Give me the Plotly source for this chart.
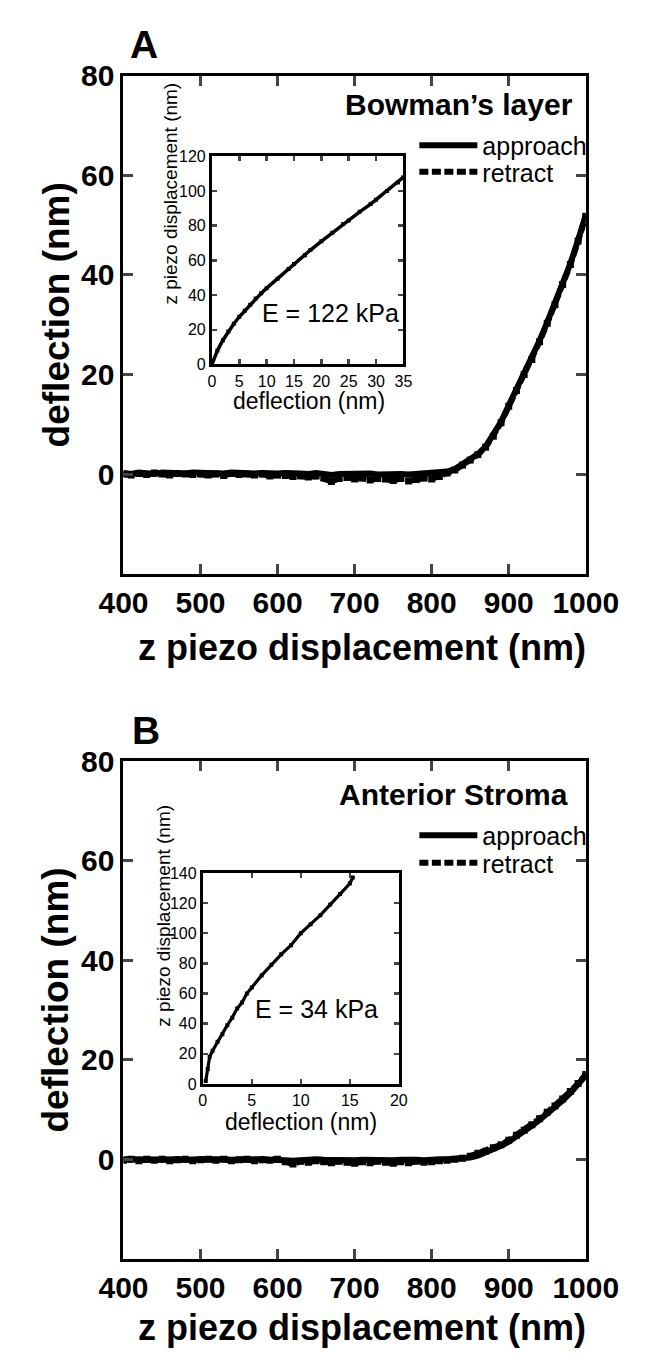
import plotly.graph_objects as go

# ---------------- data ----------------
z_main = [400, 410, 420, 430, 440, 450, 460, 470, 480, 490, 500, 510, 520, 530, 540, 550,
          560, 570, 580, 590, 600, 610, 620, 630, 640, 650, 660, 670, 680, 690, 700, 710,
          720, 730, 740, 750, 760, 770, 780, 790, 800, 810, 820, 830, 840, 850, 860, 870,
          880, 890, 900, 910, 920, 930, 940, 950, 960, 970, 980, 990, 1000]

a_approach = [0.2, 0.0, 0.3, 0.1, 0.0, 0.3, 0.2, 0.0, 0.1, 0.3, 0.2, 0.0, 0.2, 0.1, 0.3, 0.2,
              0.0, 0.1, 0.2, 0.0, 0.1, 0.2, 0.0, 0.1, 0.0, 0.2, 0.0, -0.2, 0.0, 0.1, -0.1, 0.0,
              0.1, -0.1, 0.0, 0.1, 0.0, -0.1, 0.0, 0.1, 0.1, 0.2, 0.5, 1.0, 2.0, 3.0, 4.0, 5.5,
              7.8, 10.5, 13.8, 17.0, 20.2, 23.2, 26.8, 30.5, 34.2, 38.3, 42.3, 47.0, 52.0]

a_retract = [0.0, -0.2, 0.1, -0.1, 0.2, 0.0, -0.2, 0.1, 0.0, -0.1, 0.1, -0.2, 0.0, -0.3, 0.1, -0.1,
             0.0, -0.2, 0.0, -0.4, -0.2, -0.3, -0.5, -0.3, -0.6, -0.4, -0.8, -1.5, -0.9, -0.7, -1.0, -0.8,
             -1.2, -0.9, -1.0, -1.3, -0.9, -1.4, -1.1, -0.8, -1.0, -0.5, 0.2, 0.8, 1.8, 2.8, 3.9, 5.4,
             7.6, 10.3, 13.6, 16.8, 20.0, 23.0, 26.6, 30.3, 34.0, 38.1, 42.1, 46.8, 51.8]

b_approach = [0.0, 0.1, 0.0, -0.1, 0.0, 0.1, 0.0, 0.0, -0.1, 0.1, 0.0, 0.0, 0.1, 0.0, -0.1, 0.0,
              0.1, 0.0, 0.0, -0.1, 0.0, -0.2, -0.3, -0.1, -0.2, 0.0, -0.1, -0.2, 0.0, -0.1, -0.2, -0.1,
              -0.2, 0.0, -0.1, -0.2, -0.1, 0.0, -0.1, -0.2, 0.0, 0.0, 0.0, 0.0, 0.0, 0.3, 0.7, 1.3,
              2.0, 2.7, 3.5, 4.5, 5.6, 6.7, 7.9, 9.1, 10.4, 11.8, 13.3, 15.0, 16.8]

b_retract = [-0.2, 0.0, -0.3, 0.0, -0.2, 0.0, -0.3, -0.1, 0.0, -0.3, -0.1, 0.0, -0.2, 0.0, -0.3, -0.1,
             0.0, -0.3, -0.1, -0.2, 0.0, -0.5, -1.0, -0.4, -0.6, -0.3, -0.5, -0.7, -0.4, -0.6, -0.8, -0.5,
             -0.7, -0.4, -0.6, -0.8, -0.5, -0.7, -0.4, -0.6, -0.5, -0.3, -0.2, 0.0, 0.2, 0.6, 1.2, 1.6,
             2.3, 2.9, 3.8, 4.8, 5.8, 6.9, 8.1, 9.4, 10.7, 12.1, 13.6, 15.2, 17.0]

ins_a_defl = [0, 1, 2, 3, 4, 5, 6, 7, 8, 9, 10, 12, 14, 15, 17, 18, 20, 22, 24, 25, 27, 29, 30, 32, 34, 35]
ins_a_z = [0, 8, 14, 19, 23.5, 27.5, 31, 34.5, 38, 41, 44, 49.5, 55, 58, 63, 66, 71, 76, 81, 83, 88, 92.5,
           95, 100, 105, 108]

ins_b_defl = [0.3, 0.5, 0.7, 1.0, 1.5, 2.0, 2.5, 3.0, 3.5, 4.0, 4.5, 5.0, 6.0, 7.0, 8.0, 9.0, 10.0, 11.0,
              12.0, 13.0, 14.0, 15.0, 15.3]
ins_b_z = [2, 10, 18, 22, 28, 33, 39, 44, 50, 54, 60, 64, 72, 79, 86, 92, 100, 106, 112, 119, 126, 133, 137]

main_xticks = [400, 500, 600, 700, 800, 900, 1000]
main_yticks = [0, 20, 40, 60, 80]
ins_a_xticks = [0, 5, 10, 15, 20, 25, 30, 35]
ins_a_yticks = [0, 20, 40, 60, 80, 100, 120]
ins_b_xticks = [0, 5, 10, 15, 20]
ins_b_yticks = [0, 20, 40, 60, 80, 100, 120, 140]

W, H = 658, 1357
FONT = "Liberation Sans, Arial, Helvetica, sans-serif"


def px_x(p):
    return p / W


def px_y(p):
    return 1 - p / H


fig = go.Figure()

RETRACT_DASH = "9px,3.5px"
LW = 6

# Panel A main
fig.add_trace(go.Scatter(x=z_main, y=a_retract, mode="lines", name="retract",
                         line=dict(color="black", width=LW, dash=RETRACT_DASH),
                         xaxis="x", yaxis="y", legend="legend2"))
fig.add_trace(go.Scatter(x=z_main, y=a_retract, mode="markers", showlegend=False,
                         marker=dict(symbol="square", size=7, color="black"),
                         xaxis="x", yaxis="y"))
fig.add_trace(go.Scatter(x=z_main, y=a_approach, mode="lines", name="approach",
                         line=dict(color="black", width=LW),
                         xaxis="x", yaxis="y", legend="legend"))

# Panel A inset
fig.add_trace(go.Scatter(x=ins_a_defl, y=ins_a_z, mode="lines+markers", showlegend=False,
                         line=dict(color="black", width=3.5),
                         marker=dict(symbol="square", size=4, color="black"),
                         xaxis="x2", yaxis="y2"))

# Panel B main
fig.add_trace(go.Scatter(x=z_main, y=b_retract, mode="lines", name="retract",
                         line=dict(color="black", width=LW, dash=RETRACT_DASH),
                         xaxis="x3", yaxis="y3", legend="legend4"))
fig.add_trace(go.Scatter(x=z_main, y=b_retract, mode="markers", showlegend=False,
                         marker=dict(symbol="square", size=7, color="black"),
                         xaxis="x3", yaxis="y3"))
fig.add_trace(go.Scatter(x=z_main, y=b_approach, mode="lines", name="approach",
                         line=dict(color="black", width=LW),
                         xaxis="x3", yaxis="y3", legend="legend3"))

# Panel B inset
fig.add_trace(go.Scatter(x=ins_b_defl, y=ins_b_z, mode="lines+markers", showlegend=False,
                         line=dict(color="black", width=3.2),
                         marker=dict(symbol="square", size=4, color="black"),
                         xaxis="x4", yaxis="y4"))

tick_bold = dict(family=FONT, size=30, color="black", weight="bold")
main_x_common = dict(range=[400, 1000], tickvals=main_xticks, ticks="inside", ticklen=10, tickwidth=3,
                     showline=True, linewidth=3, linecolor="black", mirror="ticks", showgrid=False,
                     zeroline=False, tickfont=tick_bold)
main_y_common = dict(range=[-20, 80], tickvals=main_yticks, ticks="inside", ticklen=10, tickwidth=3,
                     showline=True, linewidth=3, linecolor="black", mirror="ticks", showgrid=False,
                     zeroline=False, tickfont=tick_bold)
ins_common = dict(ticks="inside", ticklen=5, tickwidth=2.5, showline=True, linewidth=3,
                  linecolor="black", mirror="ticks", showgrid=False, zeroline=False,
                  tickfont=dict(family=FONT, size=16, color="black"))

L_AX, R_AX = 108, 615
ax_x = [px_x(L_AX), px_x(R_AX)]
ax_a_y = [px_y(568), px_y(61)]
ax_b_y = [px_y(1266), px_y(759)]
ins_a_x = [px_x(205), px_x(415)]
ins_a_y = [px_y(355), px_y(143)]
ins_b_x = [px_x(195), px_x(410)]
ins_b_y = [px_y(1088), px_y(873)]


def legend_at(xp, yp):
    return dict(x=px_x(xp), y=px_y(yp), xanchor="left", yanchor="middle", bgcolor="rgba(0,0,0,0)",
                font=dict(family=FONT, size=25, color="black"), itemwidth=58, tracegroupgap=0,
                borderwidth=0)


fig.update_layout(
    width=W, height=H, margin=dict(l=0, r=0, t=0, b=0),
    paper_bgcolor="white", plot_bgcolor="rgba(0,0,0,0)",
    font=dict(family=FONT, color="black"),
    hovermode=False,
    xaxis=dict(domain=ax_x, anchor="y", **main_x_common),
    yaxis=dict(domain=ax_a_y, anchor="x", **main_y_common),
    xaxis2=dict(domain=ins_a_x, anchor="y2", range=[0, 35], tickvals=ins_a_xticks, **ins_common),
    yaxis2=dict(domain=ins_a_y, anchor="x2", range=[0, 120], tickvals=ins_a_yticks, **ins_common),
    xaxis3=dict(domain=ax_x, anchor="y3", **main_x_common),
    yaxis3=dict(domain=ax_b_y, anchor="x3", **main_y_common),
    xaxis4=dict(domain=ins_b_x, anchor="y4", range=[0, 20], tickvals=ins_b_xticks, **ins_common),
    yaxis4=dict(domain=ins_b_y, anchor="x4", range=[0, 140], tickvals=ins_b_yticks, **ins_common),
    legend=legend_at(427, 132),
    legend2=legend_at(427, 159),
    legend3=legend_at(427, 835),
    legend4=legend_at(427, 863),
    showlegend=True,
)

annos = [
    # panel letters
    dict(text="<b>A</b>", x=113, y=29, xa="left", size=39),
    dict(text="<b>B</b>", x=115, y=728, xa="left", size=39),
    # panel labels
    dict(text="<b>Bowman\u2019s layer</b>", x=603, y=90, xa="right", size=30),
    dict(text="<b>Anterior Stroma</b>", x=598, y=793, xa="right", size=30),
    # modulus labels
    dict(text="E = 122 kPa", x=258, y=303, xa="left", size=25),
    dict(text="E = 34 kPa", x=250, y=1012, xa="left", size=25),
    # main axis titles
    dict(text="<b>z piezo displacement (nm)</b>", x=(L_AX + R_AX) / 2 + 8, y=643, xa="center", size=36),
    dict(text="<b>z piezo displacement (nm)</b>", x=(L_AX + R_AX) / 2 + 8, y=1336, xa="center", size=36),
    dict(text="<b>deflection (nm)</b>", x=34, y=305, xa="center", size=37, angle=-90),
    dict(text="<b>deflection (nm)</b>", x=34, y=1003, xa="center", size=37, angle=-90),
    # inset axis titles
    dict(text="deflection (nm)", x=311, y=392, xa="center", size=23),
    dict(text="deflection (nm)", x=303, y=1127, xa="center", size=23),
    dict(text="z piezo displacement (nm)", x=160, y=181, xa="center", size=19, angle=-90),
    dict(text="z piezo displacement (nm)", x=152, y=917, xa="center", size=19, angle=-90),
]
for a in annos:
    fig.add_annotation(text=a["text"], x=px_x(a["x"]), y=px_y(a["y"]), xref="paper", yref="paper",
                       xanchor=a["xa"], yanchor="middle", showarrow=False, textangle=a.get("angle", 0),
                       font=dict(family=FONT, size=a["size"], color="black"))

fig.write_html(
    "out.html",
    config={"displayModeBar": False, "staticPlot": True},
    post_script="document.body.style.margin='0';document.body.style.padding='0';"
                "document.documentElement.style.overflow='hidden';",
)
